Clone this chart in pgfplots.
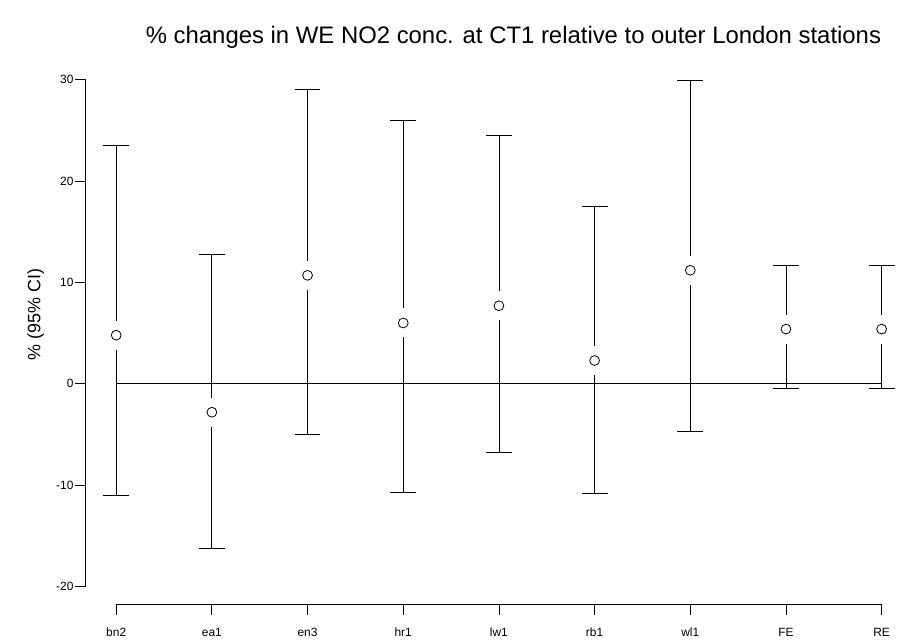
\documentclass[border=0pt]{standalone}
\usepackage{fontspec}
\setmainfont{Liberation Sans}
\usepackage{pgfplots}
\usepackage{pgfplotstable}
\pgfplotsset{compat=1.18}
\pgfplotstableread{
x y up lo
0 4.8 23.5 -11.0
1 -2.8 12.8 -16.2
2 10.7 29.0 -5.0
3 6.0 26.0 -10.7
4 7.7 24.5 -6.8
5 2.3 17.5 -10.8
6 11.2 29.9 -4.7
7 5.4 11.7 -0.45
8 5.4 11.7 -0.45
}\data
\begin{document}
\begin{tikzpicture}
\begin{axis}[
  scale only axis, width=576.75pt, height=382pt,
  xmin=0, xmax=8, ymin=-20, ymax=30,
  clip=false,
  axis x line*=bottom, axis y line*=left,
  x axis line style={-, line width=0.6pt}, y axis line style={-, line width=0.6pt},
  axis x line shift=13.3pt, axis y line shift=23pt,
  xtick={0,...,8}, xticklabels={bn2,ea1,en3,hr1,lw1,rb1,wl1,FE,RE},
  ytick={-20,-10,0,10,20,30}, yticklabels={-20,-10,0,10,20,30},
  tick align=outside,
  major tick length=8pt,
  tick style={black, line width=0.6pt},
  ticklabel style={font=\fontsize{9}{10}\selectfont},
  yticklabel style={inner sep=1pt},
  xticklabel style={yshift=-6pt, text height=6.6pt, text depth=2pt},
  title={\% changes in WE NO2 conc. at CT1 relative to outer London stations},
  title style={at={(axis description cs:0.519,1.0687)}, anchor=center, font=\fontsize{18}{21}\selectfont},
  ylabel={\% (95\% CI)},
  ylabel style={at={(axis description cs:-0.105,0.537)}, anchor=center, font=\fontsize{13.5}{16}\selectfont},
]
\path (rel axis cs:-0.1518,-0.1035) rectangle (rel axis cs:1.0173,1.1571);
\addplot[black, line width=0.6pt] coordinates {(0,0) (8,0)};
\addplot[draw=none, mark=none, forget plot, error bars/.cd, y dir=plus, y explicit,
  error mark options={rotate=90, mark size=9.75pt, line width=0.6pt, draw=black},
  error bar style={draw=black, line width=0.6pt}]
  table[x=x, y expr=\thisrow{y}+1.43, y error plus expr=\thisrow{up}-\thisrow{y}-1.43] {\data};
\addplot[draw=none, mark=none, forget plot, error bars/.cd, y dir=minus, y explicit,
  error mark options={rotate=90, mark size=9.75pt, line width=0.6pt, draw=black},
  error bar style={draw=black, line width=0.6pt}]
  table[x=x, y expr=\thisrow{y}-1.43, y error minus expr=\thisrow{y}-1.43-\thisrow{lo}] {\data};
\addplot[only marks, mark=o, mark size=3.7pt, mark options={line width=0.6pt, draw=black, fill=white}]
  table[x=x, y=y] {\data};
\end{axis}
\end{tikzpicture}
\end{document}
